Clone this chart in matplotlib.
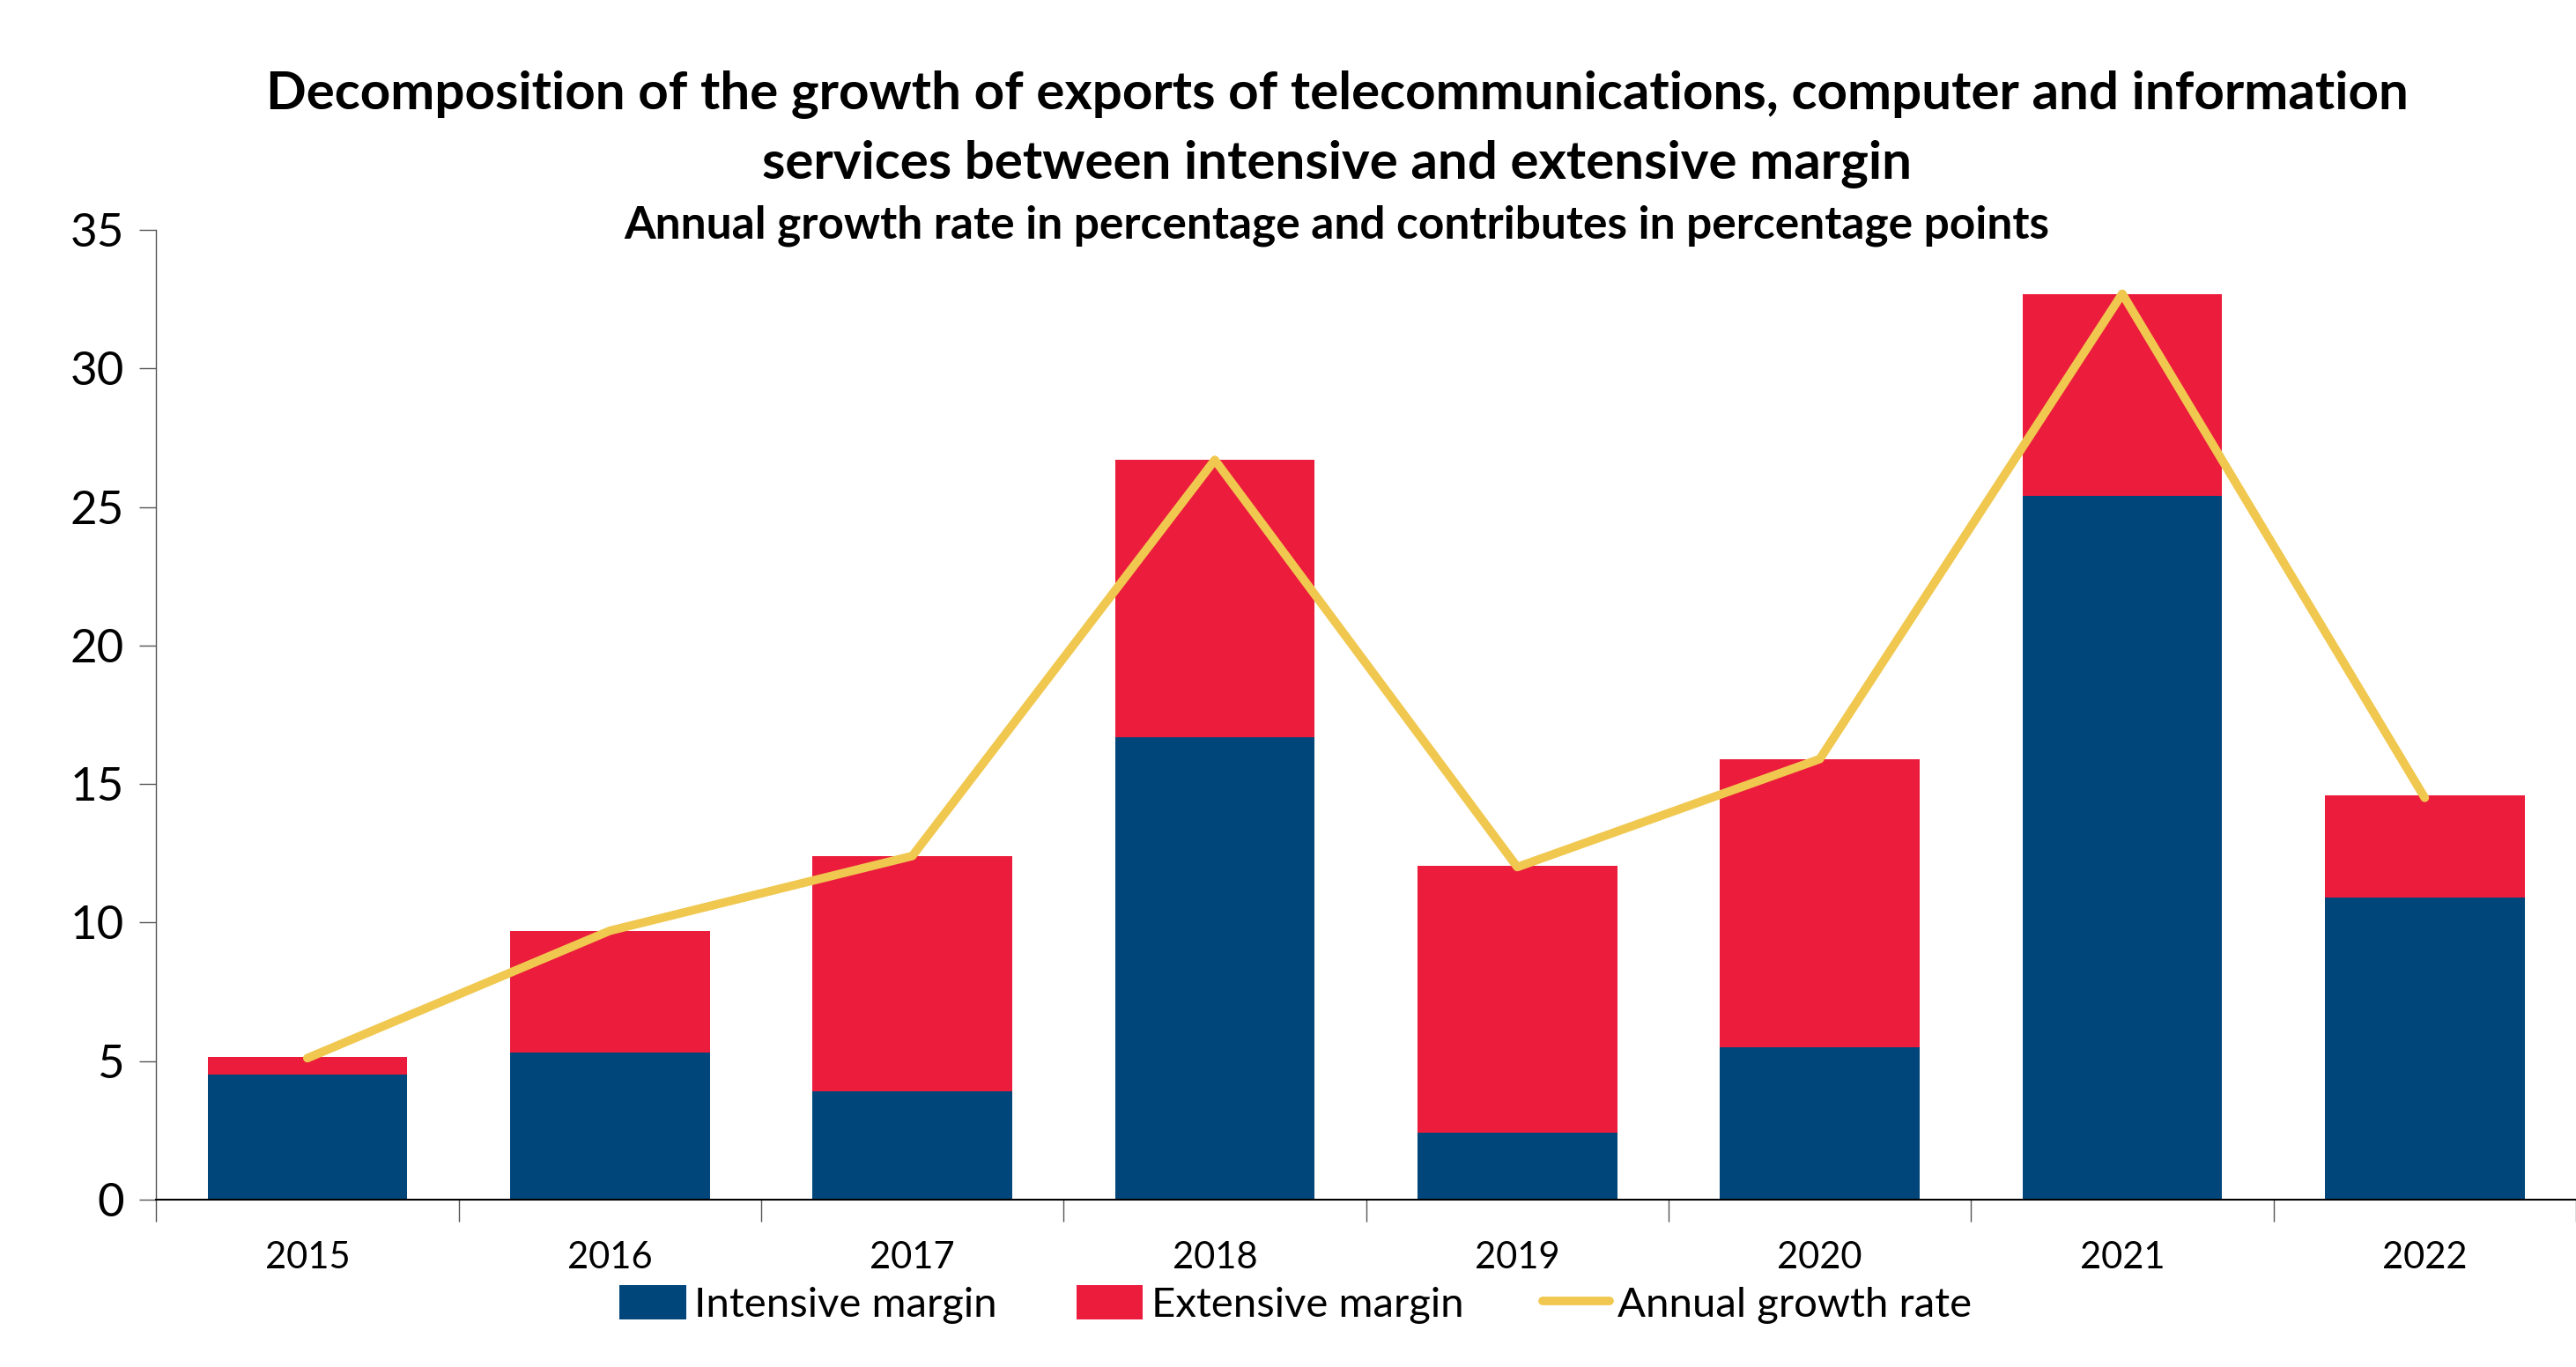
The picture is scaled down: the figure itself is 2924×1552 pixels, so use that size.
import matplotlib
matplotlib.use("Agg")
import matplotlib.pyplot as plt
import numpy as np

# data
years = ["2015", "2016", "2017", "2018", "2019", "2020", "2021", "2022"]
intensive = [4.5, 5.3, 3.9, 16.7, 2.4, 5.5, 25.4, 10.9]
extensive = [0.65, 4.4, 8.5, 10.0, 9.65, 10.4, 7.3, 3.7]
growth = [5.1, 9.7, 12.4, 26.7, 12.0, 15.9, 32.7, 14.5]

blue = "#00467A"
red = "#EB1C3C"
yellow = "#F0C84F"

plt.rcParams['font.family'] = ['Lato', 'DejaVu Sans']

fig = plt.figure(figsize=(29.24, 15.52), dpi=100)
ax = fig.add_axes([0.0606, 0.1226, 0.9394, 0.7091])

x = np.arange(len(years))
b1 = ax.bar(x, intensive, width=0.66, color=blue, label="Intensive margin", zorder=2)
b2 = ax.bar(x, extensive, width=0.66, bottom=intensive, color=red, label="Extensive margin", zorder=2)
ln, = ax.plot(x, growth, color=yellow, lw=7, solid_capstyle='round', label="Annual growth rate", zorder=3)

ax.set_xlim(-0.5, 7.5)
ax.set_ylim(0, 35)
ax.set_yticks(range(0, 36, 5))
ax.set_xticks(x)
ax.set_xticklabels(years)
ax.set_xticks(np.arange(-0.5, 8, 1), minor=True)
ax.tick_params(axis='x', which='major', length=0, pad=34, labelsize=30)
ax.tick_params(axis='x', which='minor', length=18, width=1, color='#555555')
ax.tick_params(axis='y', length=14, width=1, color='#555555', labelsize=38, pad=12)

for s in ['top', 'right']:
    ax.spines[s].set_visible(False)
ax.spines['left'].set_linewidth(1)
ax.spines['left'].set_color('#555555')
ax.spines['bottom'].set_linewidth(1.5)

fig.text(0.519, 0.931, "Decomposition of the growth of exports of telecommunications, computer and information",
         ha='center', va='center', fontsize=43.3, fontweight='bold')
fig.text(0.519, 0.880, "services between intensive and extensive margin",
         ha='center', va='center', fontsize=43.3, fontweight='bold')
fig.text(0.519, 0.835, "Annual growth rate in percentage and contributes in percentage points",
         ha='center', va='center', fontsize=37, fontweight='bold')

leg = fig.legend([b1, b2, ln], ["Intensive margin", "Extensive margin", "Annual growth rate"],
                 loc='center', bbox_to_anchor=(0.503, 0.046), ncol=3, frameon=False,
                 fontsize=34, handlelength=1.6, handleheight=0.9, columnspacing=1.9,
                 handletextpad=0.2)

fig.savefig("out.png", dpi=100)
